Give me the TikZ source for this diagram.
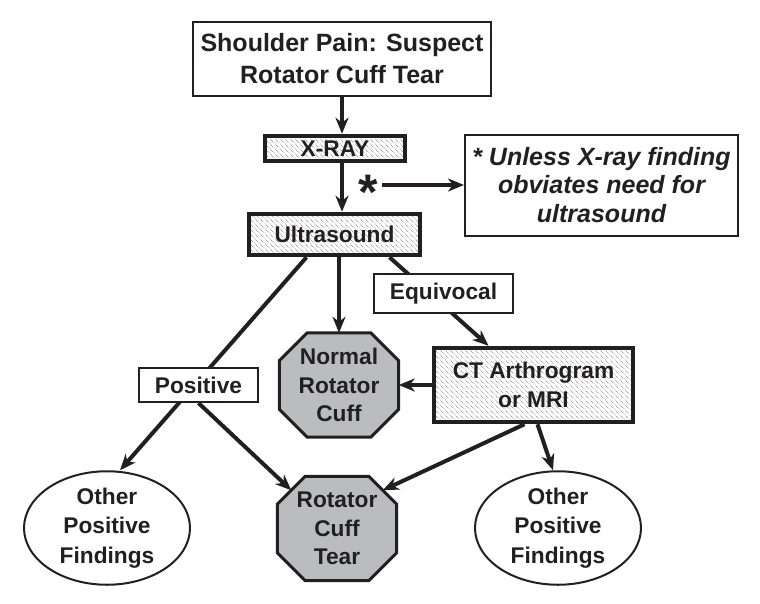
\documentclass[tikz,border=0pt]{standalone}
\usepackage{fontspec}
\setmainfont{Liberation Sans}
\usepackage{tikz}
\usetikzlibrary{arrows.meta,shapes.geometric,patterns.meta,positioning,backgrounds}
\definecolor{ink}{RGB}{35,31,32}
\definecolor{stopgray}{RGB}{186,188,190}
\tikzdeclarepattern{
	name=dothatch,
	type=uncolored,
	bounding box={(0pt,0pt) and (5pt,5pt)},
	tile size={(5pt,5pt)},
	code={\draw[line width=0.6pt,dash pattern=on 0.9pt off 1.2pt] (0pt,5pt) -- (5pt,0pt);}
}
\tikzset{FLOW style/.style={x=1pt,y=1pt,>={Stealth[length=16pt,width=13pt,inset=5pt]},every node/.style={text=ink,align=center,inner sep=0pt,font=\bfseries\fontsize{22.7}{28.5}\selectfont}}}
\newcommand{\bigtxt}{\bfseries\fontsize{25}{32}\selectfont}
\newcommand{\notetxt}{\bfseries\itshape\fontsize{25}{28.5}\selectfont}

\begin{document}
\begin{tikzpicture}[FLOW style]
	\tikzstyle{plain}=[draw=ink,line width=2pt,fill=white]
	\tikzstyle{hatched}=[draw=ink,line width=4.5pt,pattern=dothatch,pattern color=ink!75]
	\tikzstyle{stop}=[minimum width=119pt,minimum height=104pt]
	\tikzstyle{result}=[ellipse,draw=ink,line width=2pt,minimum width=166pt,minimum height=104pt,font=\bfseries\fontsize{22.7}{29.5}\selectfont]
	\tikzstyle{link}=[->,ink,line width=4pt]
	
	\useasboundingbox (0,0) rectangle (760,-603);
	
	\node[plain,minimum width=298pt,minimum height=74pt,font=\bigtxt] (pain) at (342,-59) {Shoulder Pain: Suspect\\Rotator Cuff Tear};
	\node[hatched,minimum width=140pt,minimum height=25pt] (xray) at (335,-148.5) {X-RAY};
	\node[hatched,minimum width=171pt,minimum height=41pt] (ultra) at (334.5,-234.5) {Ultrasound};
	\node[plain,minimum width=273pt,minimum height=101pt,font=\notetxt] (note) at (601.5,-185) {* Unless X-ray finding\\obviates need for\\ultrasound};
	\node[anchor=north,inner xsep=4pt,font=\bfseries\fontsize{50}{50}\selectfont] (star) at (368,-174.5) {*};
	
	\node[stop] (normal) at (339,-385) {Normal\\Rotator\\Cuff};
	\node[hatched,minimum width=199pt,minimum height=74pt] (ct) at (533.5,-385) {CT Arthrogram\\or MRI};
	
	\node[stop] (tear) at (337,-528.5) {Rotator\\Cuff\\Tear};
	\node[result] (lres) at (107,-528) {Other\\Positive\\Findings};
	\node[result] (rres) at (558,-528) {Other\\Positive\\Findings};
	
	% octagons behind the two stop nodes
	\begin{scope}[on background layer]
		\foreach \o in {normal,tear}
		\draw[draw=ink,line width=3pt,fill=stopgray,line join=miter]
		([xshift=28pt]\o.north west) -- ([xshift=-28pt]\o.north east) -- ([yshift=-28pt]\o.north east)
		-- ([yshift=28pt]\o.south east) -- ([xshift=-28pt]\o.south east) -- ([xshift=28pt]\o.south west)
		-- ([yshift=28pt]\o.south west) -- ([yshift=-28pt]\o.north west) -- cycle;
	\end{scope}
	
	\path[link]
	(pain.south) edge (pain.south |- xray.north)
	(xray.south -| pain.south) edge (pain.south |- ultra.north)
	(ultra.south -| normal.north) edge (normal.north)
	(ct.west) edge (normal.east)
	([xshift=-28pt]ultra.south) edge ([xshift=13pt]lres.north)
	([xshift=55pt]ultra.south) edge ([xshift=-45pt]ct.north)
	([xshift=-9pt]ct.south) edge ([shift={(-14pt,-14pt)}]tear.north east)
	([xshift=4pt]ct.south) edge ([xshift=-5pt]rres.north)
	;
	\draw[link,line width=3.5pt] (star.east |- note.west) -- (note.west);
	
	% branch labels sit on top of the lines
	\node[plain,minimum width=119pt,minimum height=34pt] (positive) at (198.5,-385) {Positive};
	\node[plain,minimum width=139pt,minimum height=39pt] (equiv) at (443.5,-293.5) {Equivocal};
	
	\draw[link] (positive.south) -- ([shift={(14pt,-14pt)}]tear.north west);
\end{tikzpicture}
\end{document}
